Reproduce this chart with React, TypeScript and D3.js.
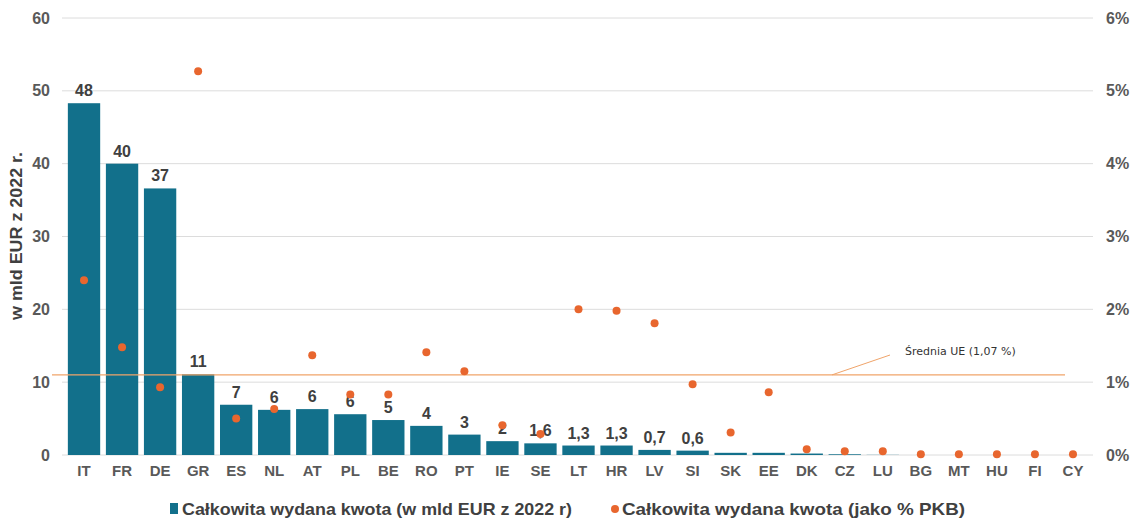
import React from "react";
import * as d3 from "d3";

const categories = ["IT","FR","DE","GR","ES","NL","AT","PL","BE","RO","PT","IE","SE","LT","HR","LV","SI","SK","EE","DK","CZ","LU","BG","MT","HU","FI","CY"];
const amounts = [48.3,40,36.6,11.1,6.9,6.2,6.3,5.6,4.8,4.0,2.8,1.9,1.6,1.3,1.3,0.7,0.6,0.3,0.3,0.2,0.1,0.02,0,0,0,0,0];
const amountLabels = ["48","40","37","11","7","6","6","6","5","4","3","2","1,6","1,3","1,3","0,7","0,6","","","","","","","","","",""];
const pctGdp = [2.4,1.48,0.93,5.27,0.5,0.63,1.37,0.83,0.83,1.41,1.15,0.41,0.29,2.0,1.98,1.81,0.97,0.31,0.86,0.08,0.05,0.05,0.01,0.01,0.01,0.01,0.01];
const leftTicks = [0,10,20,30,40,50,60];
const rightTicks = [0,1,2,3,4,5,6];
const euAverage = 1.1;
const euAverageLabel = "Średnia UE (1,07 %)";
const axisTitle = "w mld EUR z 2022 r.";
const legendLabels = ["Całkowita wydana kwota (w mld EUR z 2022 r)", "Całkowita wydana kwota (jako % PKB)"];

const W = 1141, H = 523;
const BAR = "#12708b";
const DOT = "#e8662e";
const TXT = "#595959";

export default function App() {
  const x = d3.scaleBand<string>().domain(categories).range([65, 1092]).paddingInner(0.15).paddingOuter(0.075);
  const yL = d3.scaleLinear().domain([0, 60]).range([455, 18]);
  const yR = d3.scaleLinear().domain([0, 6]).range([455, 18]);
  const font = "Liberation Sans, Arial, sans-serif";
  return (
    <svg width={W} height={H} style={{ position: "absolute", left: 0, top: 0, background: "#fff" }}>
      {leftTicks.map(t => (
        <g key={"g" + t}>
          {t > 0 && <line x1={62} x2={1093} y1={yL(t)} y2={yL(t)} stroke="#dcdcdc" strokeWidth={1} />}
          <text x={50} y={yL(t) + 5.5} textAnchor="end" fontFamily={font} fontWeight="bold" fontSize={16} fill={TXT}>{t}</text>
        </g>
      ))}
      <line x1={62} x2={1093} y1={yL(0)} y2={yL(0)} stroke="#dcdcdc" strokeWidth={1} />
      {rightTicks.map(t => (
        <text key={"r" + t} x={1106} y={yR(t) + 5.5} fontFamily={font} fontWeight="bold" fontSize={16} fill={TXT}>{t + "%"}</text>
      ))}
      <text transform={`translate(22,${236}) rotate(-90)`} textAnchor="middle" textLength={168} lengthAdjust="spacingAndGlyphs" fontFamily={font} fontWeight="bold" fontSize={16} fill="#404040">{axisTitle}</text>
      {categories.map((c, i) => (
        <g key={c}>
          <rect x={x(c)} y={yL(amounts[i])} width={x.bandwidth()} height={yL(0) - yL(amounts[i])} fill={BAR} />
          {amountLabels[i] && (
            <text x={(x(c) as number) + x.bandwidth() / 2} y={yL(amounts[i]) - 7} textAnchor="middle" fontFamily={font} fontWeight="bold" fontSize={16} fill="#404040">{amountLabels[i]}</text>
          )}
          <text x={(x(c) as number) + x.bandwidth() / 2} y={476} textAnchor="middle" fontFamily={font} fontWeight="bold" fontSize={15} fill={TXT}>{c}</text>
        </g>
      ))}
      <line x1={52} x2={1065} y1={yR(euAverage)} y2={yR(euAverage)} stroke="#f0a46a" strokeWidth={1.2} />
      <line x1={832} x2={890} y1={yR(euAverage)} y2={355} stroke="#f0a46a" strokeWidth={1} />
      <text x={905} y={355} fontFamily="DejaVu Sans, Verdana, sans-serif" fontSize={11} fill="#333">{euAverageLabel}</text>
      {categories.map((c, i) => (
        <circle key={"d" + c} cx={(x(c) as number) + x.bandwidth() / 2} cy={yR(pctGdp[i])} r={4} fill={DOT} />
      ))}
      <rect x={170} y={503} width={8} height={11} fill={BAR} />
      <text x={182} y={515} textLength={390} lengthAdjust="spacingAndGlyphs" fontFamily={font} fontWeight="bold" fontSize={17} fill="#404040">{legendLabels[0]}</text>
      <circle cx={615} cy={509} r={4} fill={DOT} />
      <text x={622} y={515} textLength={343} lengthAdjust="spacingAndGlyphs" fontFamily={font} fontWeight="bold" fontSize={17} fill="#404040">{legendLabels[1]}</text>
    </svg>
  );
}
